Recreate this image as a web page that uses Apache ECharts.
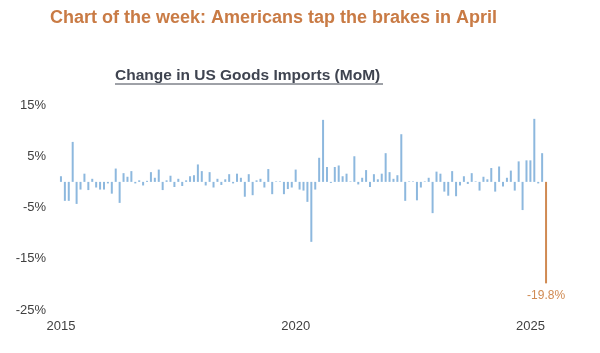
<!DOCTYPE html>
<html>
<head>
<meta charset="utf-8">
<script src="https://cdn.jsdelivr.net/npm/echarts@6/dist/echarts.min.js"></script>
<style>
  html, body { margin: 0; padding: 0; background: #fff; }
  #chart { width: 600px; height: 353px; }
</style>
</head>
<body>
<div id="chart"></div>
<script>
// monthly MoM % change, Dec 2014 .. Apr 2025
const values2015 = [1.1, -3.7, -3.7, 7.8, -4.3, -1.5, 1.6, -1.6, 0.6, -1.1, -1.5, -1.5]
const values2016 = [-0.3, -2.3, 2.6, -4.1, 1.7, 1.0, 2.1, -0.3, 0.3, -0.7, 0.2, 1.9]
const values2017 = [0.8, 2.4, -1.6, 0.3, 1.2, -1.0, 0.6, -0.8, 0.3, 1.1, 1.3, 3.4]
const values2018 = [2.1, -0.7, 1.9, -1.1, 0.6, -0.6, 0.5, 1.5, -0.3, 1.6, 0.8, -2.9]
const values2019 = [1.5, -2.6, 0.3, 0.6, -1.1, 2.5, -2.4, 0.1, 0.1, -2.4, -1.4, -1.1]
const values2020 = [2.4, -1.5, -1.7, -3.9, -11.7, -1.5, 4.7, 12.1, 2.9, -0.2, 2.9, 3.2]
const values2021 = [1.1, 1.6, 0.1, 5.0, -0.5, 0.8, 2.3, -1.0, 1.5, 0.5, 1.6, 5.6]
const values2022 = [1.9, 0.6, 1.3, 9.3, -3.7, 0.1, 0.1, -3.6, -1.1, 0.1, 0.8, -6.1]
const values2023 = [2.0, 1.6, -1.9, -2.7, 2.1, -2.8, -0.7, 1.1, -0.4, 1.7, 0.1, -1.7]
const values2024 = [1.0, 0.5, 2.7, -1.9, 3.0, -0.9, 0.8, 2.2, -1.7, 4.0, -5.5, 4.2]
const values2025 = [4.2, 12.3, -0.3, 5.6, -19.8]

const values = [].concat(values2015, values2016, values2017, values2018, values2019,
  values2020, values2021, values2022, values2023, values2024, values2025)

// categories: Dec 2014 .. Apr 2025
const months = []
for (let i = 0; i < values.length; i++) {
  const m = 11 + i
  const y = 2014 + Math.floor(m / 12)
  months.push(y + '-' + String((m % 12) + 1).padStart(2, '0'))
}

const tickIndex = [0, 60, 120]
const tickLabels = ['2015', '2020', '2025']

const blue = '#8db8de'
const orange = '#d08a52'

const chart = echarts.init(document.getElementById('chart'))

const barData = values.map((v, i) => {
  if (i === values.length - 1) {
    return {
      value: v,
      itemStyle: { color: orange },
      label: {
        show: true,
        position: 'bottom',
        distance: 6,
        color: orange,
        fontSize: 12,
        formatter: v + '%'
      }
    }
  }
  return v
})

chart.setOption({
  animation: false,
  textStyle: { fontFamily: 'Liberation Sans, Arial, sans-serif' },
  title: [
    {
      text: 'Chart of the week: Americans tap the brakes in April',
      left: 45,
      top: 4,
      textStyle: { color: '#c97b45', fontSize: 18, fontWeight: 'bold' }
    },
    {
      text: 'Change in US Goods Imports (MoM)',
      left: 110,
      top: 63,
      textStyle: { color: '#3f4450', fontSize: 15.5, fontWeight: 'bold' }
    }
  ],
  graphic: [
    {
      type: 'line',
      shape: { x1: 115, y1: 84, x2: 383, y2: 84 },
      style: { stroke: '#3f4450', lineWidth: 1 }
    }
  ],
  grid: { left: 59, right: 52, top: 105, bottom: 43 },
  xAxis: {
    type: 'category',
    data: months,
    boundaryGap: true,
    axisLine: { show: false },
    axisTick: { show: false },
    axisLabel: {
      color: '#404040',
      fontSize: 13,
      margin: 10,
      interval: (idx) => tickIndex.includes(idx),
      formatter: (val, idx) => {
        const k = tickIndex.indexOf(idx)
        return k >= 0 ? tickLabels[k] : ''
      }
    }
  },
  yAxis: {
    type: 'value',
    min: -25,
    max: 15,
    interval: 10,
    axisLine: { show: false },
    axisTick: { show: false },
    splitLine: { show: false },
    axisLabel: { color: '#404040', fontSize: 13, margin: 13, formatter: '{value}%' }
  },
  series: [
    {
      type: 'bar',
      data: barData,
      barWidth: 2,
      itemStyle: { color: blue }
    }
  ]
})
</script>
</body>
</html>
